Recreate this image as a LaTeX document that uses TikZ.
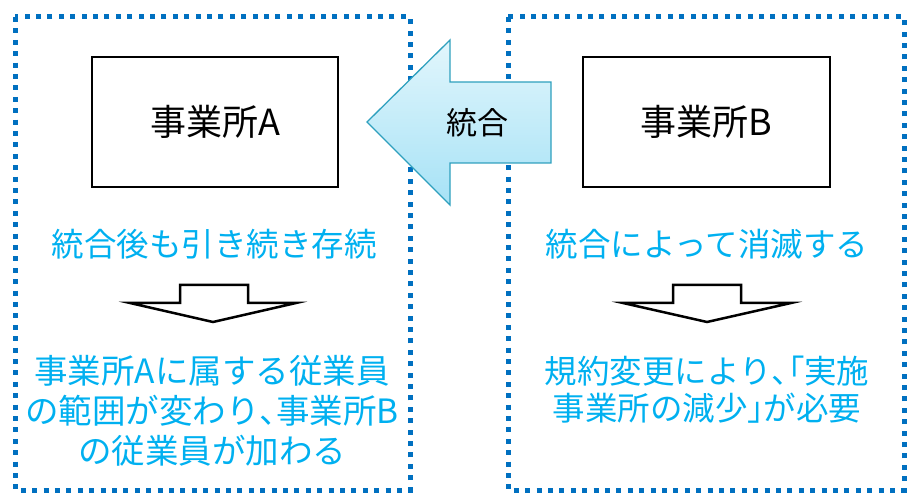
\documentclass[tikz,border=0pt]{standalone}
\usepackage{fontspec}
\setmainfont{Noto Sans CJK JP}
\newfontfamily\cjkp[RawFeature=+palt]{Noto Sans CJK JP}
\definecolor{dotblue}{HTML}{0070C0}
\definecolor{txtblue}{HTML}{00B0F0}
\definecolor{arrline}{HTML}{2FA0BE}
\definecolor{arrtop}{HTML}{E2F6FC}
\definecolor{arrbot}{HTML}{A6E2F6}
\begin{document}
\begin{tikzpicture}[x=1pt,y=-1pt,
  dotbox/.style={draw=dotblue,line width=5pt,dash pattern=on 5pt off 6.4pt},
  unitbox/.style={draw=black,line width=1.5pt,fill=white},
  bluetxt/.style={text=txtblue,font=\fontsize{32.5}{40}\selectfont,align=center,inner sep=0pt},
  boxtxt/.style={font=\fontsize{36}{40}\selectfont,inner sep=0pt},
  downarrow/.style={draw=black,line width=2.5pt,fill=white,line join=miter}]
\useasboundingbox (0,0) rectangle (910,494);
% dotted frames
\draw[dotbox] (15,17) rectangle (410,490);
\draw[dotbox] (508,17) rectangle (904,490);
% unit boxes
\draw[unitbox] (92,57) rectangle (338,187);
\node[boxtxt] (A) at (215,122) {事業所A};
\draw[unitbox] (583,57) rectangle (830,187);
\node[boxtxt] (B) at (706,122) {事業所B};
% merge arrow
\draw[draw=arrline,line width=1.3pt,top color=arrtop,bottom color=arrbot,line join=miter]
  (367,122) -- (450,40) -- (450,82) -- (551,82) -- (551,163) -- (450,163) -- (450,205) -- cycle;
\node[font=\fontsize{31}{36}\selectfont,inner sep=0pt] (merge) at (477,123) {統合};
% left column
\node[bluetxt] (la) at (214,244) {統合後も引き続き存続};
\draw[downarrow] (180,285) -- (248,285) -- (248,303) -- (296,303) -- (213,322) -- (130,303) -- (180,303) -- cycle;
\node[bluetxt,font=\fontsize{33.5}{40}\selectfont] (lb) at (212,411) {事業所Aに属する従業員\\の範囲が変わり{\cjkp 、}事業所B\\の従業員が加わる};
% right column
\node[bluetxt] (ra) at (707,244) {統合によって消滅する};
\draw[downarrow] (673,285) -- (741,285) -- (741,303) -- (791,303) -- (707,322) -- (623,303) -- (673,303) -- cycle;
\node[bluetxt,font=\fontsize{32.5}{37}\selectfont] (rb) at (707,390) {規約変更により{\cjkp 、「}実施\\事業所の減少{\cjkp 」}が必要};
\end{tikzpicture}
\end{document}
